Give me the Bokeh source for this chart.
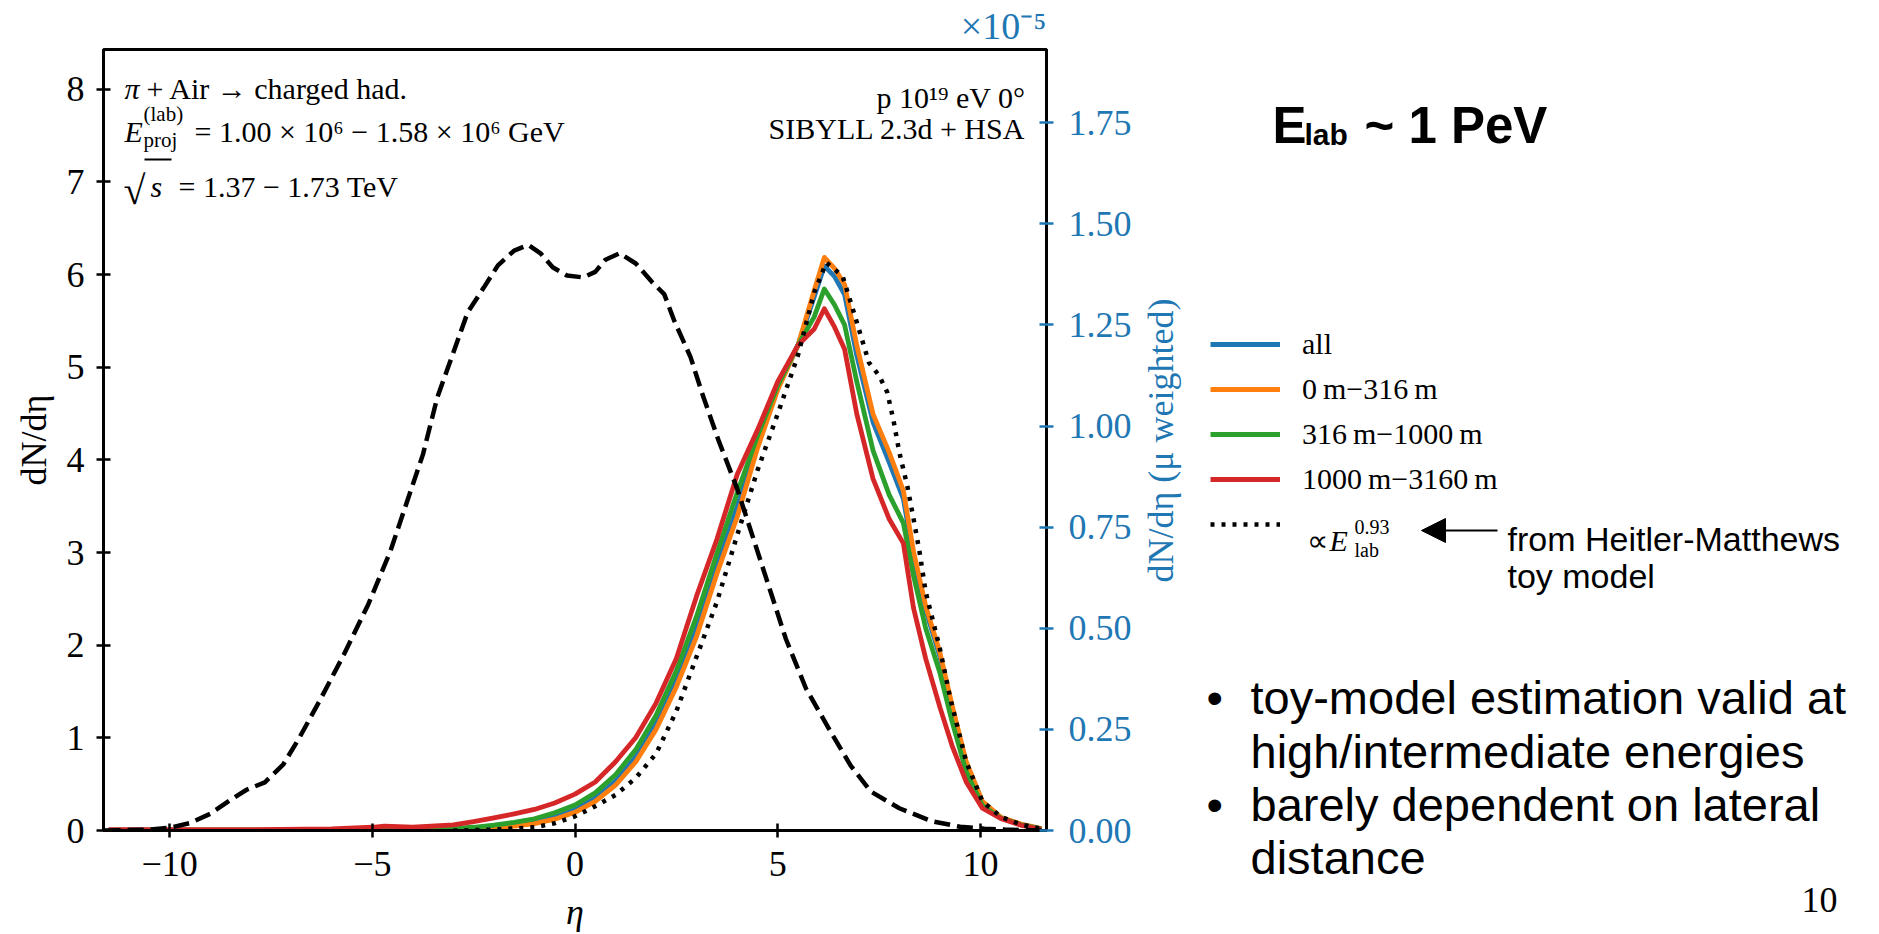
import math
from bokeh.plotting import figure
from bokeh.layouts import row
from bokeh.models import (Range1d, LinearAxis, Label, FixedTicker, PrintfTickFormatter,
                          CustomJSTickFormatter, Legend, LegendItem, Arrow, NormalHead)
from bokeh.embed import file_html
from bokeh.resources import INLINE

# ---------------- data ----------------
# pseudorapidity grid of the muon-weighted curves
eta = [-11.5, -10.0, -8.0, -6.0, -5.0, -4.7, -4.0, -3.0, -2.5, -2.0, -1.5, -1.0, -0.5, 0.0,
       0.5, 1.0, 1.5, 2.0, 2.5, 3.0, 3.5, 4.0, 4.5, 5.0, 5.5, 5.9, 6.15, 6.4, 6.65, 6.95,
       7.35, 7.75, 8.1, 8.35, 8.65, 9.0, 9.3, 9.65, 10.05, 10.5, 11.0, 11.5]
# dN/deta (mu weighted), units of 1e-5
mu_all = [0.001, 0.001, 0.001, 0.001, 0.001, 0.001, 0.002, 0.003, 0.005, 0.009, 0.014, 0.021, 0.033, 0.051,
          0.08, 0.122, 0.182, 0.265, 0.372, 0.5, 0.655, 0.8, 0.96, 1.095, 1.2, 1.32, 1.396, 1.37, 1.325, 1.175,
          1.01, 0.91, 0.82, 0.675, 0.545, 0.43, 0.3, 0.165, 0.07, 0.032, 0.015, 0.004]
mu_0_316 = [0.0, 0.0, 0.0, 0.0, 0.001, 0.001, 0.001, 0.002, 0.004, 0.007, 0.011, 0.017, 0.028, 0.045,
            0.072, 0.112, 0.17, 0.25, 0.355, 0.48, 0.635, 0.775, 0.945, 1.09, 1.2, 1.335, 1.417, 1.39, 1.35, 1.2,
            1.03, 0.935, 0.84, 0.69, 0.555, 0.44, 0.31, 0.17, 0.072, 0.033, 0.016, 0.005]
mu_316_1000 = [0.001, 0.001, 0.001, 0.001, 0.001, 0.002, 0.002, 0.005, 0.008, 0.013, 0.02, 0.029, 0.044, 0.063,
               0.093, 0.138, 0.2, 0.285, 0.395, 0.53, 0.685, 0.835, 0.975, 1.1, 1.2, 1.27, 1.339, 1.3, 1.25, 1.11,
               0.94, 0.83, 0.76, 0.63, 0.5, 0.39, 0.27, 0.145, 0.062, 0.031, 0.014, 0.004]
mu_1000_3160 = [0.002, 0.002, 0.002, 0.004, 0.008, 0.011, 0.008, 0.014, 0.022, 0.031, 0.041, 0.052, 0.068, 0.09,
                0.12, 0.17, 0.23, 0.315, 0.425, 0.58, 0.72, 0.88, 0.99, 1.11, 1.2, 1.24, 1.29, 1.245, 1.19, 1.03,
                0.87, 0.77, 0.71, 0.55, 0.425, 0.305, 0.21, 0.12, 0.055, 0.03, 0.013, 0.003]

# Heitler-Matthews toy model (proportional to E_lab^0.93), units of 1e-5
eta_toy = [-3.0, -2.0, -1.0, -0.5, 0.0, 0.5, 1.0, 1.5, 2.0, 2.5, 3.0, 3.5, 4.0, 4.5, 5.0, 5.5, 5.9, 6.2,
           6.6, 6.85, 7.25, 7.5, 7.7, 7.85, 8.0, 8.2, 8.35, 8.5, 8.65, 9.0, 9.25, 9.65, 10.05, 10.5, 11.0, 11.5]
toy = [0.0, 0.002, 0.008, 0.018, 0.035, 0.06, 0.088, 0.13, 0.19, 0.295, 0.43, 0.565, 0.73, 0.89, 1.03, 1.175,
       1.33, 1.404, 1.371, 1.29, 1.157, 1.125, 1.084, 1.017, 0.935, 0.85, 0.771, 0.688, 0.59, 0.45, 0.33,
       0.17, 0.072, 0.034, 0.015, 0.004]

# charged hadrons dN/deta (left axis)
eta_had = [-11.6, -10.5, -10.0, -9.5, -9.0, -8.5, -8.1, -7.65, -7.2, -6.8, -6.25, -5.7, -5.1, -4.55, -4.15,
           -3.75, -3.4, -3.0, -2.65, -2.25, -1.9, -1.5, -1.15, -0.85, -0.55, -0.2, 0.2, 0.5, 0.75, 1.1, 1.5,
           1.9, 2.2, 2.45, 2.85, 3.15, 3.55, 4.0, 4.4, 4.8, 5.2, 5.7, 6.3, 6.8, 7.3, 8.0, 8.8, 9.5, 10.1,
           10.6, 11.6]
dndeta_had = [0.0, 0.01, 0.03, 0.08, 0.18, 0.33, 0.44, 0.52, 0.71, 1.0, 1.44, 1.9, 2.44, 3.02, 3.54,
              4.06, 4.67, 5.16, 5.59, 5.86, 6.1, 6.26, 6.32, 6.23, 6.08, 5.99, 5.97, 6.03, 6.16, 6.23, 6.12,
              5.92, 5.79, 5.5, 5.11, 4.7, 4.2, 3.69, 3.15, 2.61, 2.07, 1.53, 1.07, 0.7, 0.42, 0.24, 0.1, 0.04,
              0.02, 0.01, 0.0]

x_ticks = [-10, -5, 0, 5, 10]
y_ticks_left = [0, 1, 2, 3, 4, 5, 6, 7, 8]
y_ticks_right = [0.0, 0.25, 0.5, 0.75, 1.0, 1.25, 1.5, 1.75]

series = [mu_all, mu_0_316, mu_316_1000, mu_1000_3160]
series_labels = ["all", "0\u2009m\u2212316\u2009m", "316\u2009m\u22121000\u2009m", "1000\u2009m\u22123160\u2009m"]
series_colors = ["#1f77b4", "#ff7f0e", "#2ca02c", "#d62728"]

# ---------------- layout ----------------
W, H = 1879, 934
FL, FR, FT, FB = 103, 1046, 49, 830
RB = 92                      # right border of the chart (right axis ticks + labels)
QX = FR + RB                 # where the side panel starts
QW = W - QX
X0, X1 = -11.63, 11.63
YL1 = 8.43
YR1 = 1.931
SERIF = "Liberation Serif"
SANS = "Liberation Sans"
BLUE = "#1f77b4"

p = figure(width=QX, height=H, x_range=Range1d(X0, X1), y_range=Range1d(0, YL1),
           output_backend="svg", toolbar_location=None, title="\u00d710\u207b\u2075",
           min_border_left=FL, min_border_right=RB, min_border_top=FT, min_border_bottom=H - FB)
p.title.align = "right"
p.title.text_color = BLUE
p.title.text_font = SERIF
p.title.text_font_size = "38px"
p.title.text_font_style = "normal"
p.title.standoff = 5
p.extra_y_ranges = {"mu": Range1d(0, YR1)}
p.xgrid.visible = False
p.ygrid.visible = False
p.outline_line_color = "black"
p.outline_line_width = 3
p.background_fill_color = "white"
p.border_fill_color = "white"


def style_axis(ax, color="black"):
    ax.axis_line_color = "black"
    ax.axis_line_width = 3
    ax.major_tick_line_color = color
    ax.major_tick_line_width = 2.5
    ax.major_tick_in = 7
    ax.major_tick_out = 7
    ax.minor_tick_line_color = None
    ax.major_label_text_font = SERIF
    ax.major_label_text_font_size = "36px"
    ax.major_label_text_color = color
    ax.axis_label_text_font = SERIF
    ax.axis_label_text_font_size = "36px"
    ax.axis_label_text_font_style = "normal"
    ax.axis_label_text_color = color


xa = p.xaxis[0]
style_axis(xa)
xa.ticker = FixedTicker(ticks=x_ticks)
xa.formatter = CustomJSTickFormatter(code="return tick < 0 ? '\\u2212' + String(-tick) : String(tick);")
xa.axis_label = "\u03b7"
xa.axis_label_text_font_style = "italic"
xa.major_label_standoff = 14
xa.axis_label_standoff = 13

ya = p.yaxis[0]
style_axis(ya)
ya.ticker = FixedTicker(ticks=y_ticks_left)
ya.axis_label = "dN/d\u03b7"
ya.major_label_standoff = 12
ya.axis_label_standoff = 10

ra = LinearAxis(y_range_name="mu", ticker=FixedTicker(ticks=y_ticks_right),
                formatter=PrintfTickFormatter(format="%.2f"))
style_axis(ra, BLUE)
ra.major_label_standoff = 15
p.add_layout(ra, "right")

# ---------------- curves ----------------
renderers = []
for vals, col in zip(series, series_colors):
    r = p.line(eta, vals, y_range_name="mu", line_color=col, line_width=4.8, line_join="round")
    renderers.append(r)
r_toy = p.line(eta_toy, toy, y_range_name="mu", line_color="black", line_width=4.5,
               line_dash="4 7", line_cap="butt")
p.line(eta_had, dndeta_had, line_color="black", line_width=4.5, line_dash="16 7")


# ---------------- helpers for in-frame text (pixel -> data) ----------------
def dx(px):
    return X0 + (px - FL) * (X1 - X0) / (FR - FL)


def dy(py):
    return (FB - py) * YL1 / (FB - FT)


def lab(text, px, py, size, font=SERIF, style="normal", color="black", align="left", baseline="alphabetic"):
    p.add_layout(Label(x=dx(px), y=dy(py), text=text, text_font=font, text_font_size=f"{size}px",
                       text_font_style=style, text_color=color, text_align=align, text_baseline=baseline))


lab("\u03c0", 124, 88, 30, style="italic")
lab("+ Air \u2192  charged had.", 146, 88, 30)
lab("E", 124, 131, 30, style="italic")
lab("(lab)", 143, 113, 21)
lab("proj", 143, 139, 21)
lab("= 1.00 \u00d7 10\u2076 \u2212 1.58 \u00d7 10\u2076 GeV", 194, 131, 30)
lab("\u221a", 123, 190, 40)
p.add_layout(Arrow(end=None, x_start=dx(144), y_start=dy(159), x_end=dx(171), y_end=dy(159),
                   line_width=2, line_color="black"))
lab("s", 150, 186, 30, style="italic")
lab("= 1.37 \u2212 1.73 TeV", 178, 186, 30)

lab("p 10\u00b9\u2079 eV 0\u00b0", 1025, 97, 30, align="right")
lab("SIBYLL 2.3d + HSA", 1025, 128, 30, align="right")

# ---------------- side panel (pixel coordinates, y downward) ----------------
q = figure(width=QW, height=H, x_range=Range1d(0, QW), y_range=Range1d(H, 0),
           output_backend="svg", toolbar_location=None,
           x_axis_location=None, y_axis_location=None,
           min_border_left=0, min_border_right=0, min_border_top=0, min_border_bottom=0)
q.outline_line_color = None
q.xgrid.visible = False
q.ygrid.visible = False
q.background_fill_color = "white"
q.border_fill_color = "white"

for f in (p, q):
    if "frame_align" in f.properties():
        f.frame_align = False


def qlab(text, px, py, size, font=SERIF, style="normal", color="black", align="left",
         baseline="alphabetic", angle=0.0):
    q.add_layout(Label(x=px - QX, y=py, text=text, text_font=font, text_font_size=f"{size}px",
                       text_font_style=style, text_color=color, text_align=align,
                       text_baseline=baseline, angle=angle))


# right axis title
qlab("dN/d\u03b7 (\u03bc weighted)", 1160, 440, 36, color=BLUE, align="center", baseline="middle",
     angle=math.pi / 2)

# legend (samples styled like the curves)
nan = float("nan")
leg_renderers = []
for col in series_colors:
    leg_renderers.append(q.line([nan], [nan], line_color=col, line_width=4.8))
leg_toy = q.line([nan], [nan], line_color="black", line_width=4.5, line_dash="4 7", line_cap="butt")
items = [LegendItem(label=l, renderers=[r]) for l, r in zip(series_labels, leg_renderers)]
items.append(LegendItem(label="\u00a0", renderers=[leg_toy]))
legend = Legend(items=items, location=(1210 - QX, H - 541), padding=0, margin=0, spacing=11,
                glyph_width=70, glyph_height=34, label_height=34, label_standoff=22,
                label_text_font=SERIF, label_text_font_size="30px", label_text_color="black",
                border_line_color=None, background_fill_alpha=0)
q.add_layout(legend)

qlab("\u221d", 1306, 540, 30)
qlab("E", 1329, 540, 30, style="italic")
qlab("0.93", 1354, 526, 20)
qlab("lab", 1354, 549, 20)

q.add_layout(Arrow(end=NormalHead(size=24, fill_color="black", line_color="black"),
                   x_start=1497 - QX, y_start=530, x_end=1421 - QX, y_end=530,
                   line_width=2, line_color="black"))
qlab("from Heitler-Matthews", 1507, 538, 34, font=SANS)
qlab("toy model", 1507, 575, 34, font=SANS)

# slide texts
qlab("E", 1272, 125, 51, font=SANS, style="bold")
qlab("lab", 1304, 134, 30, font=SANS, style="bold")
qlab("~ 1 PeV", 1364, 125, 51, font=SANS, style="bold")

qlab("\u2022", 1206, 697, 47, font=SANS)
qlab("toy-model estimation valid at", 1250, 697, 47, font=SANS)
qlab("high/intermediate energies", 1250, 751, 47, font=SANS)
qlab("\u2022", 1206, 804, 47, font=SANS)
qlab("barely dependent on lateral", 1250, 804, 47, font=SANS)
qlab("distance", 1250, 857, 47, font=SANS)

qlab("10", 1801, 899, 36)

layout = row(p, q, spacing=0)
open("out.html", "w").write(file_html(layout, INLINE))
